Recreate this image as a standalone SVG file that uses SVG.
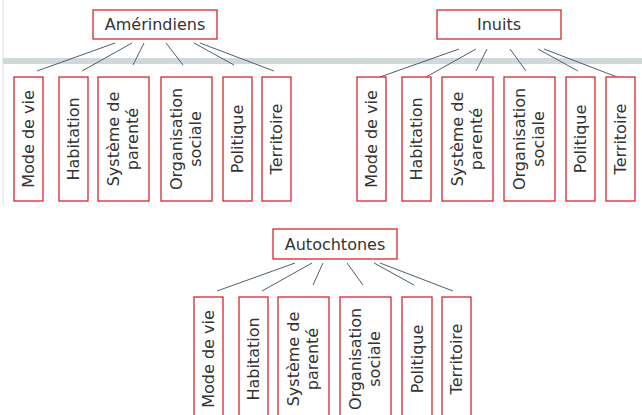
<svg xmlns="http://www.w3.org/2000/svg" width="642" height="415" viewBox="0 0 642 415">
<style>
.bx{fill:#fff;stroke:#d7262e;stroke-width:1.3}
.t{font-family:"DejaVu Sans","Liberation Sans",sans-serif;font-size:16px;fill:#333;text-anchor:middle}
.c line{stroke:#4d6068;stroke-width:1}
</style>
<rect width="642" height="415" fill="#fff"/>
<line x1="3" y1="0" x2="3" y2="205" stroke="#dcdcdc" stroke-width="1"/>
<rect x="3" y="58" width="639" height="6" fill="#d2d8d9"/>
<g id="connectors" class="c">
<line x1="115" y1="43" x2="37" y2="71"/>
<line x1="132" y1="43" x2="82" y2="71"/>
<line x1="144" y1="43" x2="133" y2="65"/>
<line x1="166" y1="43" x2="183" y2="65"/>
<line x1="194" y1="43" x2="234" y2="65"/>
<line x1="200" y1="43" x2="274" y2="71"/>
<line x1="459" y1="49" x2="380" y2="77"/>
<line x1="476" y1="49" x2="426" y2="77"/>
<line x1="487" y1="49" x2="476" y2="71"/>
<line x1="510" y1="49" x2="526" y2="71"/>
<line x1="538" y1="49" x2="578" y2="71"/>
<line x1="544" y1="49" x2="617" y2="77"/>
<line x1="295" y1="263" x2="217" y2="291"/>
<line x1="312" y1="263" x2="262" y2="291"/>
<line x1="323" y1="263" x2="313" y2="285"/>
<line x1="347" y1="263" x2="363" y2="285"/>
<line x1="374" y1="263" x2="414" y2="285"/>
<line x1="380" y1="263" x2="453" y2="291"/>
</g>
<g id="amerindiens"><rect class="bx" x="93" y="10" width="124" height="29"/><text class="t" x="155" y="30">Amérindiens</text></g>
<g id="a-mode"><rect class="bx" x="14" y="77" width="29" height="124"/><text class="t" transform="translate(28.5,139) rotate(-90)" y="5.5">Mode de vie</text></g>
<g id="a-habitation"><rect class="bx" x="59" y="77" width="29" height="124"/><text class="t" transform="translate(73.5,139) rotate(-90)" y="5.5">Habitation</text></g>
<g id="a-parente"><rect class="bx" x="98" y="77" width="51" height="124"/><text class="t" transform="translate(123.5,139) rotate(-90)"><tspan x="0" y="-5">Système de</tspan><tspan x="0" y="14">parenté</tspan></text></g>
<g id="a-organisation"><rect class="bx" x="161" y="77" width="51" height="124"/><text class="t" transform="translate(186.5,139) rotate(-90)"><tspan x="0" y="-5">Organisation</tspan><tspan x="0" y="14">sociale</tspan></text></g>
<g id="a-politique"><rect class="bx" x="223" y="77" width="29" height="124"/><text class="t" transform="translate(237.5,139) rotate(-90)" y="5.5">Politique</text></g>
<g id="a-territoire"><rect class="bx" x="262" y="77" width="29" height="124"/><text class="t" transform="translate(276.5,139) rotate(-90)" y="5.5">Territoire</text></g>
<g id="inuits"><rect class="bx" x="437" y="10" width="124" height="29"/><text class="t" x="499" y="30">Inuits</text></g>
<g id="i-mode"><rect class="bx" x="357" y="77" width="29" height="124"/><text class="t" transform="translate(371.5,139) rotate(-90)" y="5.5">Mode de vie</text></g>
<g id="i-habitation"><rect class="bx" x="402" y="77" width="29" height="124"/><text class="t" transform="translate(416.5,139) rotate(-90)" y="5.5">Habitation</text></g>
<g id="i-parente"><rect class="bx" x="442" y="77" width="51" height="124"/><text class="t" transform="translate(467.5,139) rotate(-90)"><tspan x="0" y="-5">Système de</tspan><tspan x="0" y="14">parenté</tspan></text></g>
<g id="i-organisation"><rect class="bx" x="504" y="77" width="51" height="124"/><text class="t" transform="translate(529.5,139) rotate(-90)"><tspan x="0" y="-5">Organisation</tspan><tspan x="0" y="14">sociale</tspan></text></g>
<g id="i-politique"><rect class="bx" x="566" y="77" width="29" height="124"/><text class="t" transform="translate(580.5,139) rotate(-90)" y="5.5">Politique</text></g>
<g id="i-territoire"><rect class="bx" x="606" y="77" width="29" height="124"/><text class="t" transform="translate(620.5,139) rotate(-90)" y="5.5">Territoire</text></g>
<g id="autochtones"><rect class="bx" x="273" y="229" width="124" height="30"/><text class="t" x="335" y="250">Autochtones</text></g>
<g id="o-mode"><rect class="bx" x="194" y="297" width="29" height="124"/><text class="t" transform="translate(208.5,359) rotate(-90)" y="5.5">Mode de vie</text></g>
<g id="o-habitation"><rect class="bx" x="239" y="297" width="29" height="124"/><text class="t" transform="translate(253.5,359) rotate(-90)" y="5.5">Habitation</text></g>
<g id="o-parente"><rect class="bx" x="278" y="297" width="51" height="124"/><text class="t" transform="translate(303.5,359) rotate(-90)"><tspan x="0" y="-5">Système de</tspan><tspan x="0" y="14">parenté</tspan></text></g>
<g id="o-organisation"><rect class="bx" x="340" y="297" width="51" height="124"/><text class="t" transform="translate(365.5,359) rotate(-90)"><tspan x="0" y="-5">Organisation</tspan><tspan x="0" y="14">sociale</tspan></text></g>
<g id="o-politique"><rect class="bx" x="402" y="297" width="30" height="124"/><text class="t" transform="translate(417,359) rotate(-90)" y="5.5">Politique</text></g>
<g id="o-territoire"><rect class="bx" x="442" y="297" width="29" height="124"/><text class="t" transform="translate(456.5,359) rotate(-90)" y="5.5">Territoire</text></g>
</svg>
